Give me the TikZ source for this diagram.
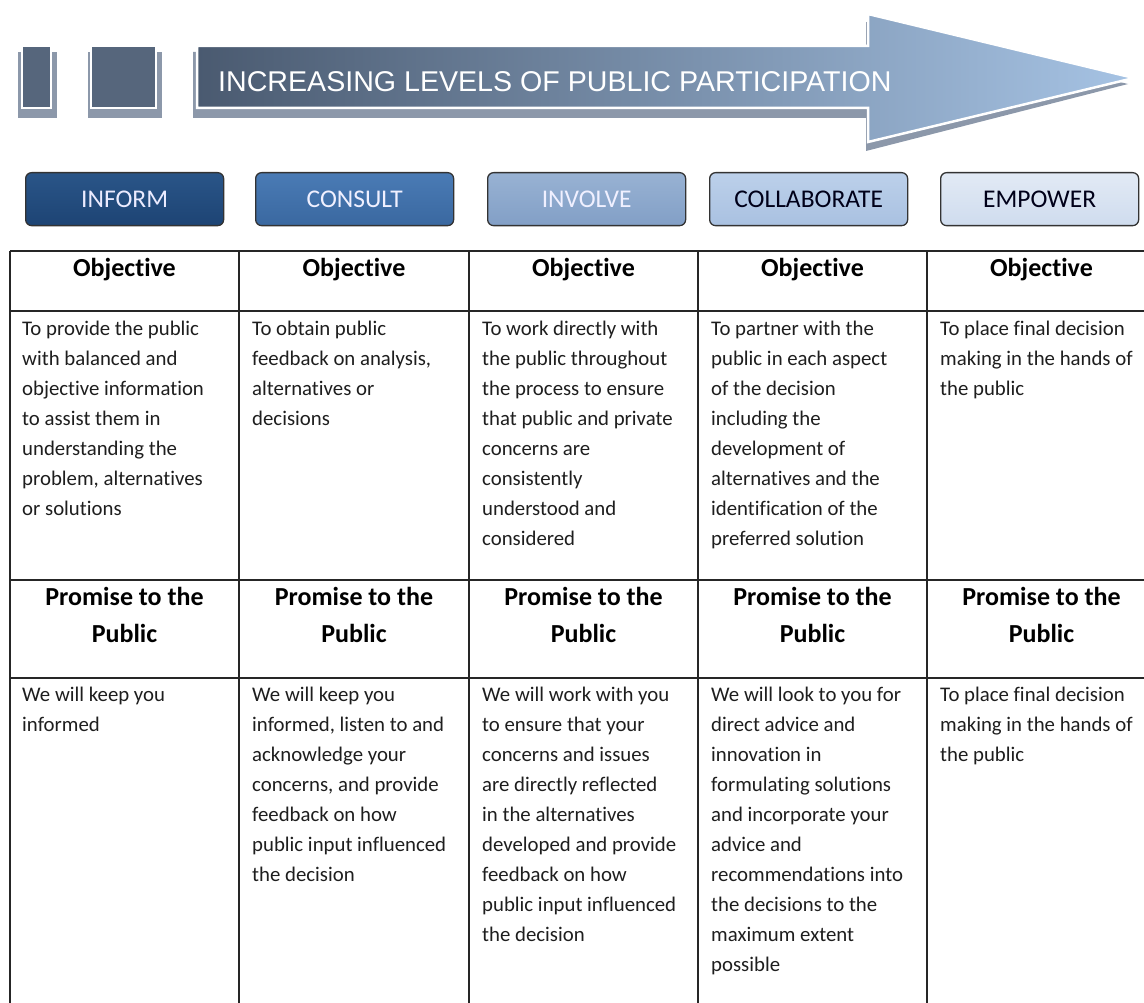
\documentclass[tikz,border=0pt]{standalone}
\usepackage{fontspec}
\setmainfont[Ligatures=NoCommon]{Carlito}
\newfontfamily\arialf{Liberation Sans}
\definecolor{slate}{HTML}{56667C}
\definecolor{arrL}{HTML}{4A5A70}
\definecolor{arrM}{HTML}{809CC2}
\definecolor{arrR}{HTML}{A6C3E4}
\definecolor{shad}{HTML}{8C98AA}
\definecolor{txt}{HTML}{1E1E1E}
\definecolor{bInfT}{HTML}{2A5588}
\definecolor{bInfB}{HTML}{1D4474}
\definecolor{bConT}{HTML}{4A7BB5}
\definecolor{bConB}{HTML}{3A68A0}
\definecolor{bInvT}{HTML}{98B2D3}
\definecolor{bInvB}{HTML}{829FC6}
\definecolor{bColT}{HTML}{BCD0EA}
\definecolor{bColB}{HTML}{A9C1E1}
\definecolor{bEmpT}{HTML}{E2EAF5}
\definecolor{bEmpB}{HTML}{CFDCEE}
\begin{document}
\begin{tikzpicture}[x=1pt,y=-1pt,
  btn/.style={draw=black!80,line width=1.3pt,rounded corners=6pt,minimum width=198pt,minimum height=53pt,
    font=\fontsize{25.5}{30}\selectfont,anchor=north west,inner sep=0pt},
  cell/.style={anchor=base west,align=left,inner sep=0pt,text=txt,font=\fontsize{20.8}{30}\selectfont},
  hdr/.style={anchor=base,align=center,inner sep=0pt,text=black,font=\fontsize{26}{37}\bfseries\selectfont},
  tline/.style={line width=1.4pt,black!85},
  sq/.style={fill=slate,draw=white,line width=2.5pt},
  sqshadow/.style={fill=shad}
]
\useasboundingbox[fill=white] (0,0) rectangle (1144,1003);

% ---- top arrow banner ----
\fill[sqshadow] (18,52) rectangle (57,118);
\fill[sqshadow] (88,52) rectangle (162,118);
\path[sq] (22,46) rectangle (51,108);
\path[sq] (91,46) rectangle (156,108);
\fill[sqshadow] (193,52) -- (866,52) -- (866,22) -- (1128,84) -- (866,151) -- (866,118) -- (193,118) -- cycle;
\path[draw=white,line width=2.5pt,left color=arrL,middle color=arrM,right color=arrR]
  (197,46) -- (868,46) -- (868,14) -- (1134,78) -- (868,142) -- (868,108) -- (197,108) -- cycle;
\node[anchor=base west,inner sep=0pt,text=white,font=\arialf\fontsize{28.6}{30}\selectfont] (title) at (218,92)
  {INCREASING LEVELS OF PUBLIC PARTICIPATION};

% ---- level buttons ----
\node[btn,top color=bInfT,bottom color=bInfB,text=white!92!blue] (inform) at (25,172) {INFORM};
\node[btn,top color=bConT,bottom color=bConB,text=white!94!blue] (consult) at (255,172) {CONSULT};
\node[btn,top color=bInvT,bottom color=bInvB,text=white!94!blue] (involve) at (487,172) {INVOLVE};
\node[btn,top color=bColT,bottom color=bColB,text=black!90!blue] (collab) at (709,172) {COLLABORATE};
\node[btn,top color=bEmpT,bottom color=bEmpB,text=black!90!blue] (empower) at (940,172) {EMPOWER};

% ---- table ----
\draw[tline] (10,251) -- (1144,251);
\draw[tline] (10,311) -- (1144,311);
\draw[tline] (10,580) -- (1144,580);
\draw[tline] (10,678) -- (1144,678);
\foreach \x in {10,239,469,698,927} \draw[tline] (\x,251) -- (\x,1003);

% (multi-line nodes: base anchor = baseline of the last line)
\foreach \c/\x in {1/124.5,2/354,3/583.5,4/812.5,5/1041.5}{
  \node[hdr] (obj\c) at (\x,277) {Objective};
  \node[hdr] (pro\c) at (\x,642) {Promise to the\\Public};
}

\node[cell] (o1) at (22,515) {To provide the public\\with balanced and\\objective information\\to assist them in\\understanding the\\problem, alternatives\\or solutions};
\node[cell] (o2) at (252,425) {To obtain public\\feedback on analysis,\\alternatives or\\decisions};
\node[cell] (o3) at (482,545) {To work directly with\\the public throughout\\the process to ensure\\that public and private\\concerns are\\consistently\\understood and\\considered};
\node[cell] (o4) at (711,545) {To partner with the\\public in each aspect\\of the decision\\including the\\development of\\alternatives and the\\identification of the\\preferred solution};
\node[cell] (o5) at (940,395) {To place final decision\\making in the hands of\\the public};

\node[cell] (p1) at (22,731) {We will keep you\\informed};
\node[cell] (p2) at (252,881) {We will keep you\\informed, listen to and\\acknowledge your\\concerns, and provide\\feedback on how\\public input influenced\\the decision};
\node[cell] (p3) at (482,941) {We will work with you\\to ensure that your\\concerns and issues\\are directly reflected\\in the alternatives\\developed and provide\\feedback on how\\public input influenced\\the decision};
\node[cell] (p4) at (711,971) {We will look to you for\\direct advice and\\innovation in\\formulating solutions\\and incorporate your\\advice and\\recommendations into\\the decisions to the\\maximum extent\\possible};
\node[cell] (p5) at (940,761) {To place final decision\\making in the hands of\\the public};
\end{tikzpicture}
\end{document}
